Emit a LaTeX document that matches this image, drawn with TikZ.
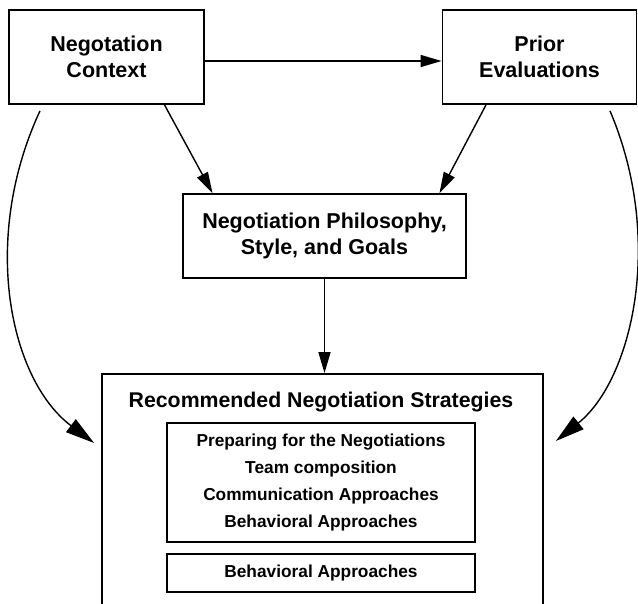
\documentclass[tikz,border=0pt]{standalone}
\usepackage{fontspec}
\setmainfont{Liberation Sans}
\usetikzlibrary{arrows.meta}

\begin{document}
\begin{tikzpicture}[x=1pt, y=-1pt,
    box/.style={draw, line width=1.8pt, align=center, inner sep=0pt,
      font=\fontsize{21.5}{25.5}\selectfont\bfseries},
    subbox/.style={draw, line width=1.3pt, align=center, inner sep=0pt,
      minimum width=308pt, font=\fontsize{17.3}{26.7}\selectfont\bfseries},
    link/.style={line width=1.4pt, -{Triangle[length=21pt, width=12pt]}},
    curvelink/.style={line width=1.4pt, -{Triangle[length=29pt, width=16pt]}}]
  \useasboundingbox (0,0) rectangle (638,604);

  \node[box, minimum width=195pt, minimum height=94pt] (ctx) at (106.5,57) {Negotation\\Context};
  \node[box, minimum width=194pt, minimum height=94pt] (prior) at (539.5,57) {Prior\\Evaluations};
  \node[box, minimum width=283pt, minimum height=84pt] (phil) at (324.5,236) {Negotiation Philosophy,\\Style, and Goals};
  \node[box, minimum width=441pt, minimum height=232pt] (strat) at (322.5,490) {};
  \node[font=\fontsize{21.3}{25}\selectfont\bfseries] (title) at (321,402) {Recommended Negotiation Strategies};
  \node[subbox, minimum height=119pt] (prep) at (321,482.5)
    {Preparing for the Negotiations\\Team composition\\Communication Approaches\\Behavioral Approaches};
  \node[subbox, minimum height=38pt] (behav) at (321,573) {Behavioral Approaches};

  \path[draw, link] ([yshift=-4pt]ctx.east) -- ([yshift=-4pt]prior.west);
  \path[draw, link] ([xshift=58pt]ctx.south) -- ([xshift=-112pt]phil.north);
  \path[draw, link] ([xshift=-53.5pt]prior.south) -- ([xshift=115pt]phil.north);
  \path[draw, link] (phil.south) -- (phil.south |- strat.north);
  \path[draw, curvelink] ([xshift=-66.5pt, yshift=-6pt]ctx.south)
    .. controls (-20,240) and (10,380) .. ([xshift=-7pt, yshift=47pt]strat.west);
  \path[draw, curvelink] ([xshift=70.5pt, yshift=-6pt]prior.south)
    .. controls (665,240) and (632,380) .. ([xshift=12pt, yshift=49pt]strat.east);
\end{tikzpicture}
\end{document}
